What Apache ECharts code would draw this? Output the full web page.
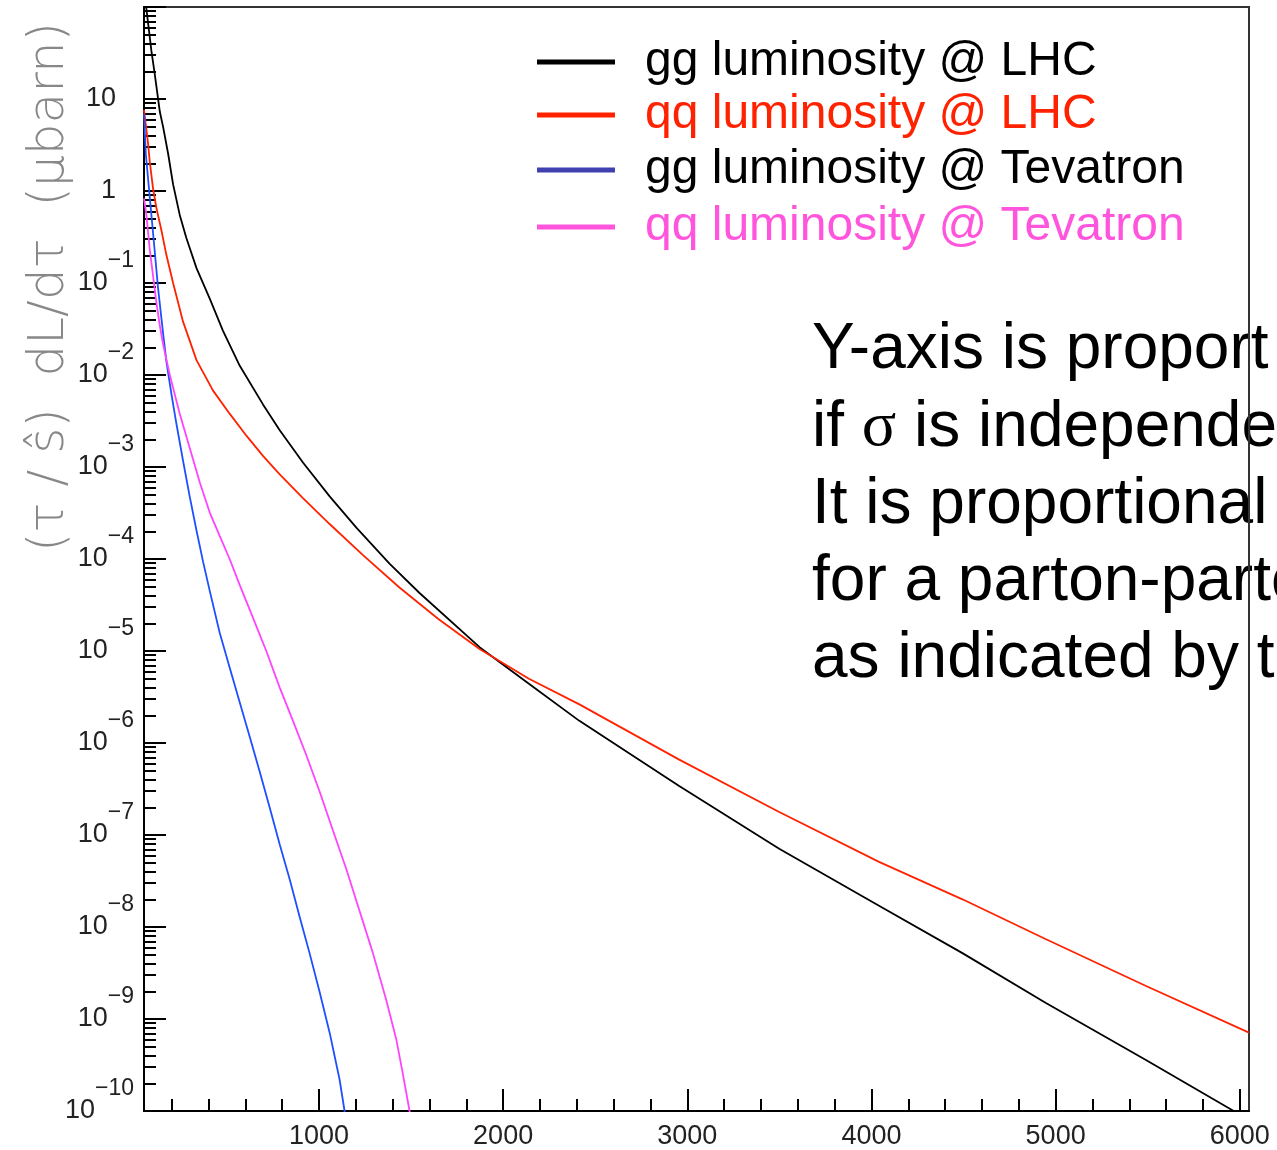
<!DOCTYPE html>
<html><head><meta charset="utf-8">
<script src="https://cdn.jsdelivr.net/npm/echarts@6/dist/echarts.min.js"></script>
<style>html,body{margin:0;padding:0;background:#fff}#c{width:1277px;height:1150px}</style>
</head><body><div id="c"></div>
<script>
// ---- data ----
const seriesNames = ['gg luminosity @ LHC', 'qq luminosity @ LHC', 'gg luminosity @ Tevatron', 'qq luminosity @ Tevatron'];

const xGgLhc = [58, 63, 90, 108, 136, 154, 181, 208, 244, 280, 335, 407, 479, 570, 696, 787, 913, 1058, 1203, 1383, 1546, 1872, 2140, 2414, 2956, 3499, 4041, 4494, 4945, 5488, 5967, 6050];
const yGgLhc = [126, 95.5, 33.5, 18.9, 7.26, 4.95, 2.54, 1.18, 0.55, 0.309, 0.145, 0.0676, 0.0302, 0.0126, 0.00479, 0.00251, 0.00112, 4.79e-4, 2.19e-4, 8.9e-5, 4.27e-5, 1.1e-5, 4.4e-6, 1.74e-6, 3.4e-7, 7.1e-8, 1.7e-8, 5.2e-9, 1.5e-9, 3.6e-10, 1.0e-10, 7.9e-11];

const xQqLhc = [50, 72, 81, 99, 117, 145, 172, 208, 262, 335, 425, 515, 606, 696, 787, 913, 1058, 1239, 1437, 1650, 1872, 2140, 2414, 2956, 3499, 4041, 4494, 4945, 5488, 6050];
const yQqLhc = [7.6, 3.3, 2.1, 1.07, 0.66, 0.37, 0.2, 0.1, 0.038, 0.0145, 0.00676, 0.0038, 0.00219, 0.00132, 8.3e-4, 4.6e-4, 2.4e-4, 1.1e-4, 4.9e-5, 2.21e-5, 1.05e-5, 5.0e-6, 2.63e-6, 6.6e-7, 1.78e-7, 5.1e-8, 2.0e-8, 7.4e-9, 2.3e-9, 7.1e-10];

const xGgTev = [50, 60, 85, 108, 126, 154, 172, 199, 226, 262, 298, 335, 371, 407, 461, 515, 570, 624, 678, 732, 787, 841, 895, 949, 1004, 1058, 1112, 1139, 1160];
const yGgTev = [6.9, 2.5, 0.71, 0.224, 0.089, 0.028, 0.0138, 0.0062, 0.00295, 0.00117, 4.79e-4, 2.04e-4, 9.3e-5, 4.5e-5, 1.58e-5, 6.6e-6, 2.75e-6, 1.17e-6, 4.9e-7, 2.0e-7, 7.9e-8, 3.3e-8, 1.29e-8, 5.2e-9, 1.95e-9, 7.1e-10, 2.2e-10, 1.0e-10, 5e-11];

const xQqTev = [50, 63, 81, 99, 117, 136, 154, 190, 244, 298, 353, 407, 461, 515, 570, 642, 714, 787, 859, 931, 1004, 1076, 1148, 1221, 1293, 1365, 1420, 1456, 1492, 1510];
const yQqTev = [0.83, 0.55, 0.234, 0.12, 0.062, 0.0343, 0.0214, 0.01, 0.0038, 0.00162, 6.8e-4, 3.2e-4, 1.78e-4, 1.0e-4, 5.2e-5, 2.29e-5, 1.0e-5, 4.0e-6, 1.74e-6, 7.4e-7, 2.95e-7, 1.12e-7, 4.3e-8, 1.48e-8, 5.2e-9, 1.62e-9, 6.0e-10, 2.5e-10, 1.0e-10, 5.6e-11];

const xTickValues = [1000, 2000, 3000, 4000, 5000, 6000];
const xMinorTickValues = [200, 400, 600, 800, 1200, 1400, 1600, 1800, 2200, 2400, 2600, 2800, 3200, 3400, 3600, 3800, 4200, 4400, 4600, 4800, 5200, 5400, 5600, 5800];
const yAxisTitle = '(τ / ŝ)  dL/dτ  (μbarn)';
const noteLines = ['Y-axis is proport', 'if {s|σ} is independe', 'It is proportional', 'for a parton-parto', 'as indicated by t'];

// ---- styles ----
const lineColors = ['#000000', '#ff2200', '#1e50ff', '#ff44ff'];
const legendIconColors = ['#000000', '#ff2200', '#4040b0', '#ff55dd'];
const legendTextColors = ['#000000', '#ff2200', '#000000', '#ff55dd'];
const legendTops = [38, 91, 146, 203];
const FONT = 'Liberation Sans';

function pairs(xs, ys) { return xs.map((x, i) => [x, ys[i]]); }
const seriesData = [pairs(xGgLhc, yGgLhc), pairs(xQqLhc, yQqLhc), pairs(xGgTev, yGgTev), pairs(xQqTev, yQqTev)];

const chart = echarts.init(document.getElementById('c'), null, { renderer: 'canvas' });

const option = {
  animation: false,
  backgroundColor: '#ffffff',
  grid: { left: 144, right: 28, top: 7, bottom: 38, show: true, borderColor: '#333', borderWidth: 2 },
  legend: seriesNames.map((n, i) => ({
    left: 537, top: legendTops[i], padding: 0, selectedMode: false,
    itemWidth: 78, itemHeight: 5,
    data: [{ name: n, icon: 'rect', itemStyle: { color: legendIconColors[i] }, textStyle: { color: legendTextColors[i] } }],
    textStyle: { fontSize: 48, fontFamily: FONT, padding: [0, 0, 13, 25] }
  })),
  xAxis: [
    {
      type: 'value', min: 50, max: 6050,
      axisLine: { lineStyle: { color: '#000', width: 2 } },
      axisTick: { inside: true, length: 22, customValues: xTickValues, lineStyle: { color: '#000', width: 2 } },
      axisLabel: { customValues: xTickValues, fontSize: 27, fontFamily: FONT, color: '#222', margin: 12, formatter: function (v) { return String(v); } },
      splitLine: { show: false }
    },
    {
      type: 'value', min: 50, max: 6050, position: 'bottom',
      axisLine: { show: false },
      axisTick: { inside: true, length: 12, customValues: xMinorTickValues, lineStyle: { color: '#000', width: 2 } },
      axisLabel: { show: false },
      splitLine: { show: false }
    }
  ],
  yAxis: {
    type: 'log', logBase: 10, min: 1e-10, max: 100, interval: 1,
    axisLine: { lineStyle: { color: '#000', width: 2 } },
    axisTick: { inside: true, length: 22, lineStyle: { color: '#000', width: 2 } },
    minorTick: { show: true, splitNumber: 9, length: 12, lineStyle: { color: '#000', width: 2 } },
    splitLine: { show: false },
    minorSplitLine: { show: false },
    axisLabel: {
      margin: 10,
      formatter: function (v) {
        const e = Math.round(Math.log10(v));
        if (e >= 2) return '';
        if (e === 1) return '{p|10}';
        if (e === 0) return '{p|1}';
        return '{b|10}{e|−' + (-e) + '}';
      },
      rich: {
        p: { fontSize: 27, fontFamily: FONT, color: '#222', padding: [0, 18, 0, 0] },
        b: { fontSize: 27, fontFamily: FONT, color: '#222' },
        e: { fontSize: 23, fontFamily: FONT, color: '#222', padding: [0, 0, 44, 0] }
      }
    }
  },
  graphic: [
    {
      type: 'text', x: 50, y: 287, rotation: Math.PI / 2,
      style: { text: yAxisTitle, fontSize: 50, fontFamily: 'DejaVu Sans', fontWeight: 200, fill: '#888888', align: 'center', verticalAlign: 'middle' }
    }
  ].concat(noteLines.map((t, i) => ({
    type: 'text', x: 812, y: 350.8 + i * 77.2, z: -1,
    style: {
      text: t, fontSize: 64, fontFamily: FONT, fill: '#000', align: 'left', verticalAlign: 'middle',
      rich: { s: { fontSize: 64, fontFamily: 'Liberation Serif', fill: '#000' } }
    }
  }))),
  series: seriesNames.map((n, i) => ({
    name: n, type: 'line', data: seriesData[i], showSymbol: false, symbol: 'none',
    smooth: false, clip: true,
    lineStyle: { color: lineColors[i], width: 1.8 }, itemStyle: { color: lineColors[i] }
  }))
};
chart.setOption(option);
</script>
</body></html>
